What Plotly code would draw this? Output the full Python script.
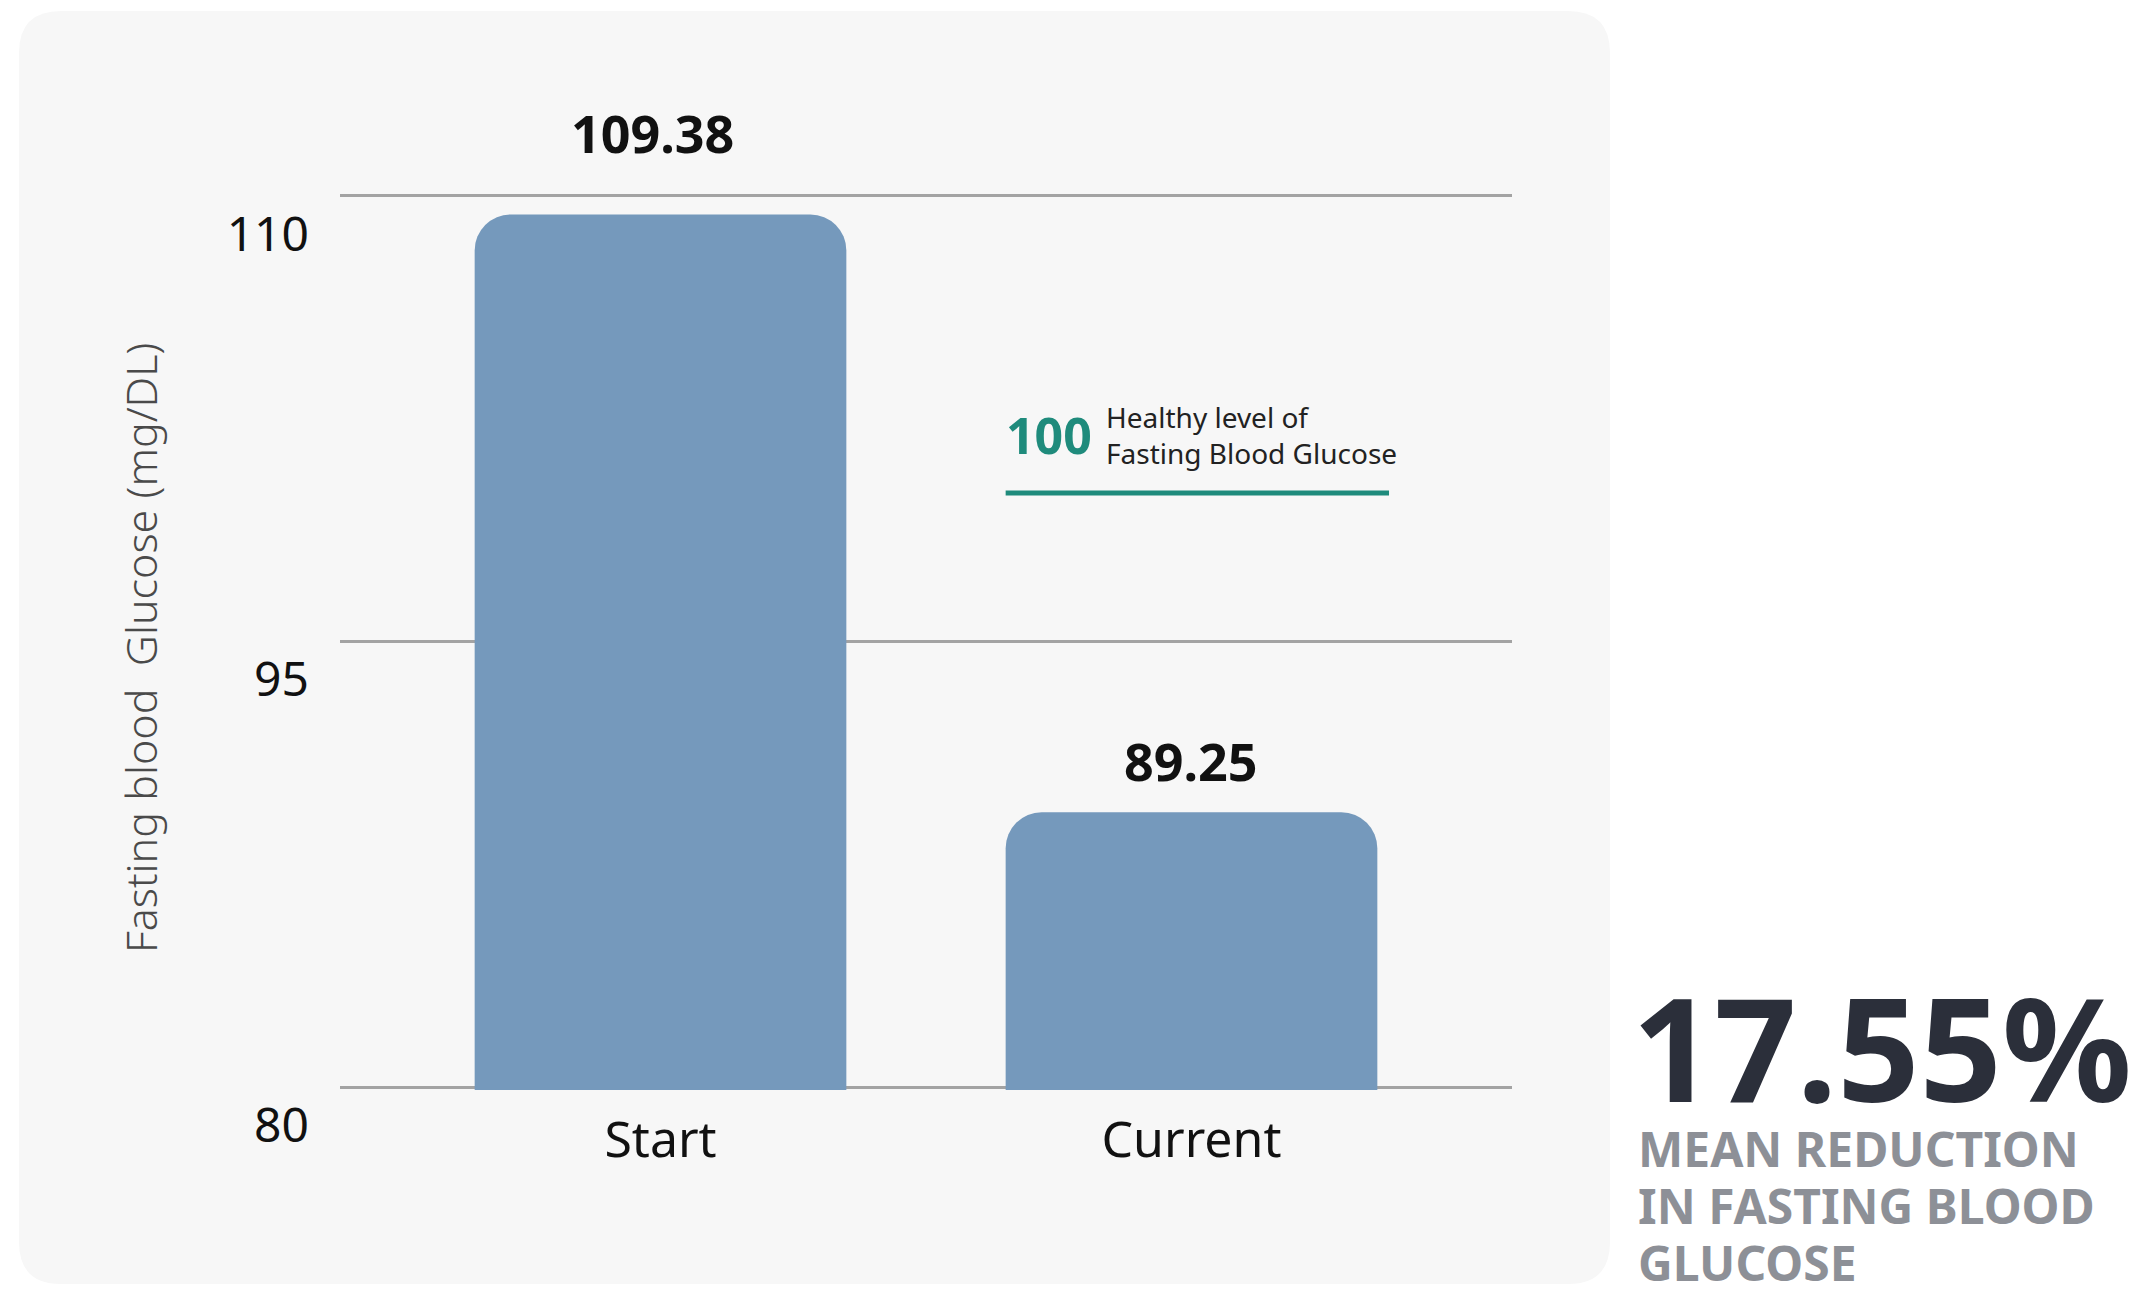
import plotly.graph_objects as go

# ---------------- data ----------------
categories = ["Start", "Current"]
glucose = [109.38, 89.25]
value_labels = ["109.38", "89.25"]
y_ticks = [80, 95, 110]
healthy_level = 100
healthy_label = "100"
healthy_text = ["Healthy level of", "Fasting Blood Glucose"]
reduction_pct = "17.55%"
reduction_lines = ["MEAN REDUCTION", "IN FASTING BLOOD", "GLUCOSE"]
y_title = "Fasting blood  Glucose (mg/DL)"

# ---------------- layout helpers ----------------
W, H = 2146, 1291
PAD = 0.1                       # small range padding so edge gridlines are kept
UNIT = (1087 - 196) / (y_ticks[-1] - y_ticks[0])
L, R = 340, 1512
T, B = 196 - PAD * UNIT, 1087 + PAD * UNIT
FONT = "Noto Sans, Open Sans, sans-serif"
BAR_COLOR = "#7599bc"
TEAL = "#1f8b7c"
GRID = "#a3a3a3"


def px(x):
    return (x - L) / (R - L)


def py(y):
    return (B - y) / (B - T)


def rrect(x0, y0, x1, y1, r):
    pts = [
        f"M {px(x0 + r)},{py(y0)}",
        f"L {px(x1 - r)},{py(y0)}",
        f"Q {px(x1)},{py(y0)} {px(x1)},{py(y0 + r)}",
        f"L {px(x1)},{py(y1 - r)}",
        f"Q {px(x1)},{py(y1)} {px(x1 - r)},{py(y1)}",
        f"L {px(x0 + r)},{py(y1)}",
        f"Q {px(x0)},{py(y1)} {px(x0)},{py(y1 - r)}",
        f"L {px(x0)},{py(y0 + r)}",
        f"Q {px(x0)},{py(y0)} {px(x0 + r)},{py(y0)}",
        "Z",
    ]
    return " ".join(pts)


X_RANGE = [-0.6036, 1.6036]
BAR_WIDTH = 0.7

fig = go.Figure()
fig.add_trace(
    go.Bar(
        x=list(range(len(categories))),
        y=glucose,
        width=BAR_WIDTH,
        marker=dict(color=BAR_COLOR, line=dict(width=0)),
        hoverinfo="skip",
    )
)

annotations = []
# value labels above bars
label_shifts = [82, 52]
for i, (v, t) in enumerate(zip(glucose, value_labels)):
    annotations.append(
        dict(
            x=i, y=v, xref="x", yref="y", text=t, showarrow=False,
            xanchor="center", yanchor="middle", yshift=label_shifts[i],
            xshift=-8 if i == 0 else 0,
            font=dict(family=FONT, size=52, color="#111111", weight="bold"),
        )
    )

# healthy level annotation
annotations.append(
    dict(
        x=px(1094), y=healthy_level, xref="paper", yref="y", text=healthy_label,
        showarrow=False, xanchor="right", yanchor="middle", yshift=58,
        font=dict(family=FONT, size=50, color=TEAL, weight="bold"),
    )
)
annotations.append(
    dict(
        x=px(1104), y=healthy_level, xref="paper", yref="y",
        text="<br>".join(healthy_text),
        showarrow=False, xanchor="left", yanchor="middle", yshift=58,
        align="left",
        font=dict(family=FONT, size=28, color="#222222"),
    )
)

# y axis title
annotations.append(
    dict(
        x=px(140), y=py(648), xref="paper", yref="paper", text=y_title,
        showarrow=False, textangle=-90, xanchor="center", yanchor="middle",
        font=dict(family=FONT, size=43, color="#4a4a4a", weight=300),
    )
)

# big number on the right
annotations.append(
    dict(
        x=px(1630), y=py(1046), xref="paper", yref="paper", text=reduction_pct,
        showarrow=False, xanchor="left", yanchor="middle",
        font=dict(family=FONT, size=144, color="#2b2f3a", weight="bold"),
    )
)
for line, yc in zip(reduction_lines, [1148, 1205, 1262]):
    annotations.append(
        dict(
            x=px(1636), y=py(yc), xref="paper", yref="paper", text=line,
            showarrow=False, xanchor="left", yanchor="middle",
            font=dict(family=FONT, size=48, color="#8d9097", weight="bold"),
        )
    )

shapes = [
    dict(
        type="path", xref="paper", yref="paper", layer="below",
        path=rrect(19, 11, 1610, 1284, 42),
        fillcolor="#f7f7f7", line=dict(width=0),
    ),
    dict(
        type="line", xref="x", yref="y", layer="above",
        x0=1 - BAR_WIDTH / 2, x1=1.372, y0=healthy_level, y1=healthy_level,
        line=dict(color=TEAL, width=5),
    ),
]

fig.update_layout(
    width=W, height=H,
    margin=dict(l=L, r=W - R, t=T, b=H - B, pad=0),
    paper_bgcolor="white",
    plot_bgcolor="rgba(0,0,0,0)",
    showlegend=False,
    barcornerradius=36,
    annotations=annotations,
    shapes=shapes,
    xaxis=dict(
        range=X_RANGE,
        tickmode="array",
        tickvals=list(range(len(categories))),
        ticktext=categories,
        showgrid=False, zeroline=False, showline=False,
        ticks="",
        ticklabelstandoff=16,
        tickfont=dict(family=FONT, size=50, color="#111111"),
        fixedrange=True,
    ),
    yaxis=dict(
        range=[y_ticks[0] - PAD, y_ticks[-1] + PAD],
        tickmode="array",
        tickvals=y_ticks,
        ticktext=[str(t) for t in y_ticks],
        showgrid=True, gridcolor=GRID, gridwidth=2.5,
        zeroline=False, showline=False, ticks="",
        ticklabelshift=38,
        ticklabelstandoff=30,
        tickfont=dict(family=FONT, size=48, color="#111111"),
        fixedrange=True,
    ),
)

fig.write_html(
    "out.html",
    config={"displayModeBar": False},
    post_script="document.body.style.margin='0px';",
)
